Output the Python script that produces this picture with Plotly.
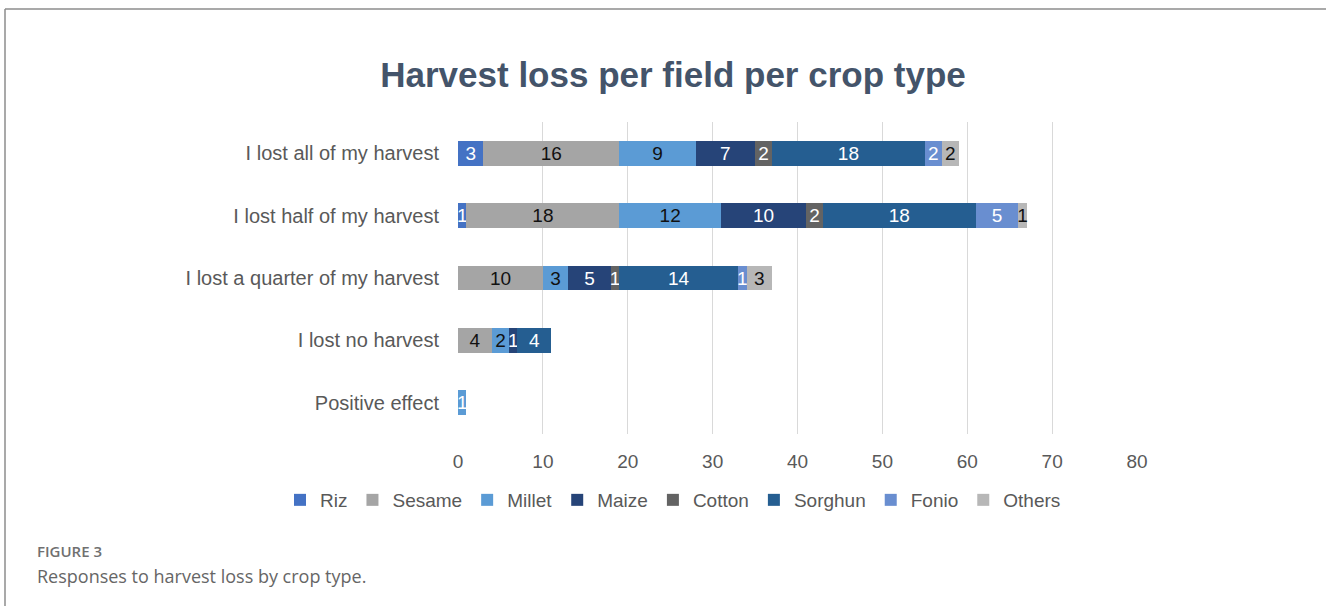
import plotly.graph_objects as go

# Response categories (top to bottom) and crops
categories = [
    "I lost all of my harvest",
    "I lost half of my harvest",
    "I lost a quarter of my harvest",
    "I lost no harvest",
    "Positive effect",
]
crops = ["Riz", "Sesame", "Millet", "Maize", "Cotton", "Sorghun", "Fonio", "Others"]

riz = [3, 1, None, None, None]
sesame = [16, 18, 10, 4, None]
millet = [9, 12, 3, 2, 1]
maize = [7, 10, 5, 1, None]
cotton = [2, 2, 1, None, None]
sorghun = [18, 18, 14, 4, None]
fonio = [2, 5, 1, None, None]
others = [2, 1, 3, None, None]

series = [riz, sesame, millet, maize, cotton, sorghun, fonio, others]
colors = ["#4472C4", "#A5A5A5", "#5B9BD5", "#264478", "#636363", "#255E91", "#698ED0", "#B7B7B7"]
label_colors = ["white", "#111111", "#111111", "white", "white", "white", "white", "#111111"]

FONT = "Arial, Liberation Sans, sans-serif"
W, H = 1326, 606
L, R, T, B = 458, 1137, 122, 434
pw, ph = R - L, B - T


def px_x(x):
    return (x - L) / pw


def px_y(y):
    return (B - y) / ph


fig = go.Figure()
for name, vals, col, lcol in zip(crops, series, colors, label_colors):
    tcolors = [lcol] * len(vals)
    if name == "Millet":
        tcolors[-1] = "white"
    fig.add_trace(go.Bar(
        y=categories,
        x=vals,
        name=name,
        orientation="h",
        marker=dict(color=col, line=dict(width=0)),
        text=[("" if v is None else str(v)) for v in vals],
        textposition="inside",
        insidetextanchor="middle",
        textangle=0,
        constraintext="none",
        textfont=dict(family=FONT, size=19, color=tcolors),
        hoverinfo="name+x",
    ))

fig.update_layout(
    width=W,
    height=H,
    barmode="stack",
    bargap=0.6,
    paper_bgcolor="white",
    plot_bgcolor="white",
    margin=dict(l=L, r=W - R, t=T, b=H - B, pad=0, autoexpand=False),
    font=dict(family=FONT, color="#595959"),
    title=dict(
        text="<b>Harvest loss per field per crop type</b>",
        x=673 / W, xref="container", xanchor="center",
        y=1 - 75 / H, yanchor="middle",
        font=dict(family=FONT, size=35, color="#44546A"),
    ),
    xaxis=dict(
        range=[0, 80],
        dtick=10,
        showgrid=True,
        gridcolor="#D9D9D9",
        gridwidth=1,
        zeroline=False,
        showline=False,
        ticks="",
        ticklabelstandoff=14,
        tickfont=dict(family=FONT, size=19, color="#595959"),
        fixedrange=True,
    ),
    yaxis=dict(
        categoryorder="array",
        categoryarray=categories[::-1],
        showgrid=False,
        zeroline=False,
        showline=False,
        ticks="",
        ticklabelstandoff=18,
        tickfont=dict(family=FONT, size=20, color="#595959"),
        fixedrange=True,
    ),
    legend=dict(
        orientation="h",
        traceorder="normal",
        xref="paper",
        x=px_x(280), xanchor="left",
        yref="paper",
        y=px_y(500), yanchor="middle",
        font=dict(family=FONT, size=19, color="#595959"),
        itemwidth=30,
        tracegroupgap=0,
        bgcolor="rgba(0,0,0,0)",
    ),
    showlegend=True,
)

# Panel frame (left and top edges)
fig.add_shape(type="line", xref="paper", yref="paper",
              x0=px_x(5), x1=px_x(5), y0=px_y(9), y1=px_y(610),
              line=dict(color="#8C8C8C", width=1.5))
fig.add_shape(type="line", xref="paper", yref="paper",
              x0=px_x(5), x1=px_x(1330), y0=px_y(9), y1=px_y(9),
              line=dict(color="#8C8C8C", width=1.5))

# Figure caption
fig.add_annotation(text="FIGURE 3", xref="paper", yref="paper",
                   x=px_x(35), y=px_y(551), xanchor="left", yanchor="middle",
                   showarrow=False,
                   font=dict(family="Open Sans, sans-serif", size=15, weight=600, color="#707070"))
fig.add_annotation(text="Responses to harvest loss by crop type.", xref="paper", yref="paper",
                   x=px_x(35), y=px_y(576), xanchor="left", yanchor="middle",
                   showarrow=False,
                   font=dict(family="Open Sans, sans-serif", size=18, color="#666666"))

fig.write_html("out.html")
